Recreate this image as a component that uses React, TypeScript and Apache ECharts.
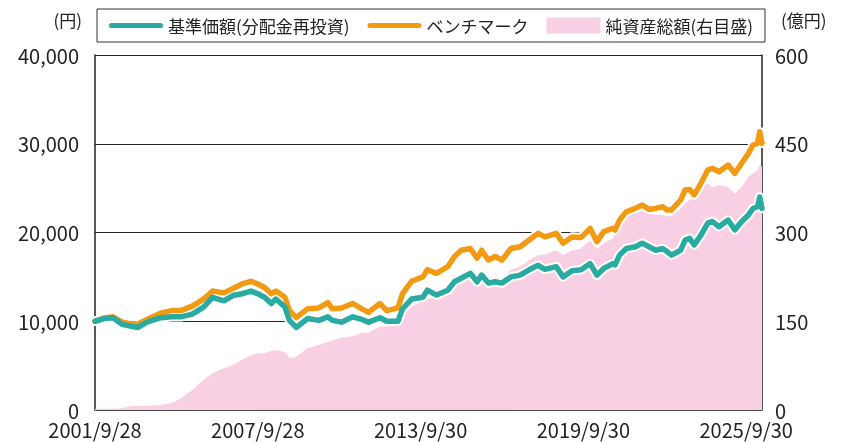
import React, { useEffect, useRef } from "react";
import * as echarts from "echarts";

// x positions are months elapsed since 2001/9
const months = [
  0, 4, 8, 12, 15, 19, 23, 29, 34, 38,
  43, 48, 52, 57, 61, 65, 69, 72, 75, 78,
  80, 84, 86, 89, 94, 99, 103, 105, 109, 114,
  118, 121, 126, 129, 134, 136, 140, 145, 147, 151,
  156, 159, 162, 166, 169, 171, 174, 177, 180, 184,
  188, 192, 196, 199, 204, 207, 211, 215, 219, 222,
  225, 229, 230, 232, 235, 239, 242, 245, 248, 251,
  253, 255, 259, 261, 263, 265, 268, 271, 273, 276,
  280, 283, 286, 289, 291, 293, 294, 295,
];

const navValues = [
  10000, 10300, 10400, 9650, 9500, 9300, 9900, 10400, 10500, 10500,
  10800, 11600, 12700, 12300, 12900, 13100, 13400, 13100, 12700, 12000,
  12500, 11600, 10100, 9300, 10300, 10100, 10500, 10100, 9900, 10500,
  10200, 9900, 10400, 10000, 10000, 11400, 12500, 12700, 13500, 12950,
  13500, 14450, 14850, 15400, 14450, 15200, 14300, 14450, 14300, 15000,
  15200, 15800, 16300, 15850, 16150, 15000, 15700, 15800, 16500, 15200,
  15950, 16500, 16350, 17450, 18200, 18400, 18800, 18400, 18000, 18200,
  17850, 17450, 18000, 19150, 19350, 18600, 19700, 21050, 21250, 20650,
  21400, 20300, 21250, 21970, 22700, 22900, 24000, 22700,
];

const benchValues = [
  10000, 10350, 10500, 9900, 9750, 9700, 10200, 10900, 11200, 11200,
  11700, 12500, 13400, 13200, 13700, 14200, 14500, 14200, 13800, 13100,
  13400, 12700, 11200, 10400, 11400, 11500, 12100, 11400, 11500, 12000,
  11400, 11000, 12000, 11200, 11500, 13100, 14500, 15000, 15800, 15400,
  16150, 17300, 18000, 18200, 17100, 18000, 16900, 17300, 16900, 18200,
  18400, 19150, 19900, 19500, 19900, 18800, 19500, 19450, 20450, 18960,
  20100, 20470, 20280, 21400, 22340, 22720, 23100, 22600, 22720, 22900,
  22540, 22540, 23660, 24790, 24850, 24230, 25540, 27040, 27230, 26850,
  27600, 26670, 27800, 28920, 29860, 30050, 31360, 30050,
];

// 純資産総額 (億円)
const aumValues = [
  2, 2, 2, 3, 6, 7, 7, 8, 12, 20,
  34, 51, 62, 71, 76, 85, 93, 96, 96, 100,
  101, 98, 88, 90, 105, 110, 115, 118, 122, 125,
  130, 131, 141, 141, 149, 160, 175, 184, 188, 191,
  203, 214, 220, 226, 217, 222, 220, 221, 223, 237,
  242, 253, 262, 263, 270, 262, 270, 273, 287, 273,
  282, 290, 299, 316, 327, 335, 338, 332, 330, 330,
  327, 328, 340, 349, 355, 360, 377, 383, 377, 380,
  377, 366, 377, 394, 400, 405, 414, 411,
];

const tickLabels = ["2001/9/28", "2007/9/28", "2013/9/30", "2019/9/30", "2025/9/30"];
const tickStep = 72;
const lastMonth = 295;

const NAV_NAME = "基準価額(分配金再投資)";
const BENCH_NAME = "ベンチマーク";
const AUM_NAME = "純資産総額(右目盛)";

const FONT = "'Noto Sans CJK JP', 'Noto Sans', sans-serif";
const TEAL = "#29ABA2";
const ORANGE = "#F29A12";
const PINK = "#F9D0E3";
const INK = "#222222";
const LINE_ICON = "path://M2.5,0H51.5A2.5,2.5,0,0,1,51.5,5H2.5A2.5,2.5,0,0,1,2.5,0Z";

const zip = (vals: number[]) => months.map((m, i) => [m, vals[i]]);

export default function App() {
  const ref = useRef<HTMLDivElement>(null);
  useEffect(() => {
    if (!ref.current) return;
    const chart = echarts.init(ref.current, undefined, { renderer: "svg" });
    const option: any = {
      animation: false,
      textStyle: { fontFamily: FONT },
      grid: { left: 95, right: 81, top: 55, bottom: 32, containLabel: false },
      legend: {
        left: 97,
        top: 9,
        padding: [8, 12, 8, 12],
        itemGap: 18,
        itemWidth: 54,
        itemHeight: 16,
        borderColor: "#333",
        borderWidth: 1,
        textStyle: { fontSize: 17, color: INK, fontFamily: FONT },
        data: [
          { name: NAV_NAME, icon: LINE_ICON },
          { name: BENCH_NAME, icon: LINE_ICON },
          { name: AUM_NAME, icon: "rect", itemStyle: { color: PINK } },
        ],
      },
      xAxis: {
        type: "value",
        min: 0,
        max: lastMonth,
        interval: tickStep,
        axisLine: { show: true, onZero: false, lineStyle: { color: "#555", width: 1.5 } },
        axisTick: { show: false },
        splitLine: { show: false },
        axisLabel: {
          fontSize: 20,
          lineHeight: 20,
          color: INK,
          margin: 9,
          fontFamily: FONT,
          formatter: (v: number) => {
            const k = v / tickStep;
            return Number.isInteger(k) && k < tickLabels.length ? tickLabels[k] : "";
          },
        },
      },
      yAxis: [
        {
          type: "value",
          position: "left",
          min: 0,
          max: 40000,
          interval: 10000,
          name: "(円)",
          nameLocation: "end",
          nameGap: 36,
          nameTextStyle: { fontSize: 17, color: INK, align: "right", verticalAlign: "middle", padding: [0, 13, 0, 0], fontFamily: FONT },
          axisLine: { show: true, lineStyle: { color: INK, width: 1.5 } },
          axisTick: { show: false },
          splitLine: { show: true, lineStyle: { color: INK, width: 1 } },
          axisLabel: {
            fontSize: 20,
            lineHeight: 18,
            color: INK,
            margin: 16,
            fontFamily: FONT,
            formatter: (v: number) => v.toLocaleString("en-US"),
          },
        },
        {
          type: "value",
          position: "right",
          min: 0,
          max: 600,
          interval: 150,
          name: "(億円)",
          nameLocation: "end",
          nameGap: 36,
          nameTextStyle: { fontSize: 17, color: INK, align: "left", verticalAlign: "middle", padding: [0, 0, 0, 19], fontFamily: FONT },
          axisLine: { show: true, lineStyle: { color: INK, width: 1.5 } },
          axisTick: { show: false },
          splitLine: { show: false },
          axisLabel: { fontSize: 20, lineHeight: 18, color: INK, margin: 13, fontFamily: FONT },
        },
      ],
      series: [
        {
          name: AUM_NAME,
          type: "line",
          yAxisIndex: 1,
          data: zip(aumValues),
          symbol: "none",
          lineStyle: { width: 0, color: PINK },
          itemStyle: { color: PINK },
          areaStyle: { color: PINK, opacity: 1 },
          z: 1,
        },
        {
          name: "halo-bench",
          type: "line",
          data: zip(benchValues),
          symbol: "none",
          silent: true,
          lineStyle: { width: 9.5, color: "#ffffff", join: "round", cap: "round" },
          itemStyle: { color: "#ffffff" },
          z: 2,
        },
        {
          name: "halo-nav",
          type: "line",
          data: zip(navValues),
          symbol: "none",
          silent: true,
          lineStyle: { width: 9.5, color: "#ffffff", join: "round", cap: "round" },
          itemStyle: { color: "#ffffff" },
          z: 2,
        },
        {
          name: BENCH_NAME,
          type: "line",
          data: zip(benchValues),
          symbol: "none",
          lineStyle: { width: 5.5, color: ORANGE, join: "round", cap: "round" },
          itemStyle: { color: ORANGE },
          z: 3,
        },
        {
          name: NAV_NAME,
          type: "line",
          data: zip(navValues),
          symbol: "none",
          lineStyle: { width: 5.5, color: TEAL, join: "round", cap: "round" },
          itemStyle: { color: TEAL },
          z: 4,
        },
      ],
    };
    chart.setOption(option);
    return () => chart.dispose();
  }, []);
  return <div ref={ref} style={{ position: "fixed", left: 0, top: 0, width: 843, height: 442 }} />;
}
